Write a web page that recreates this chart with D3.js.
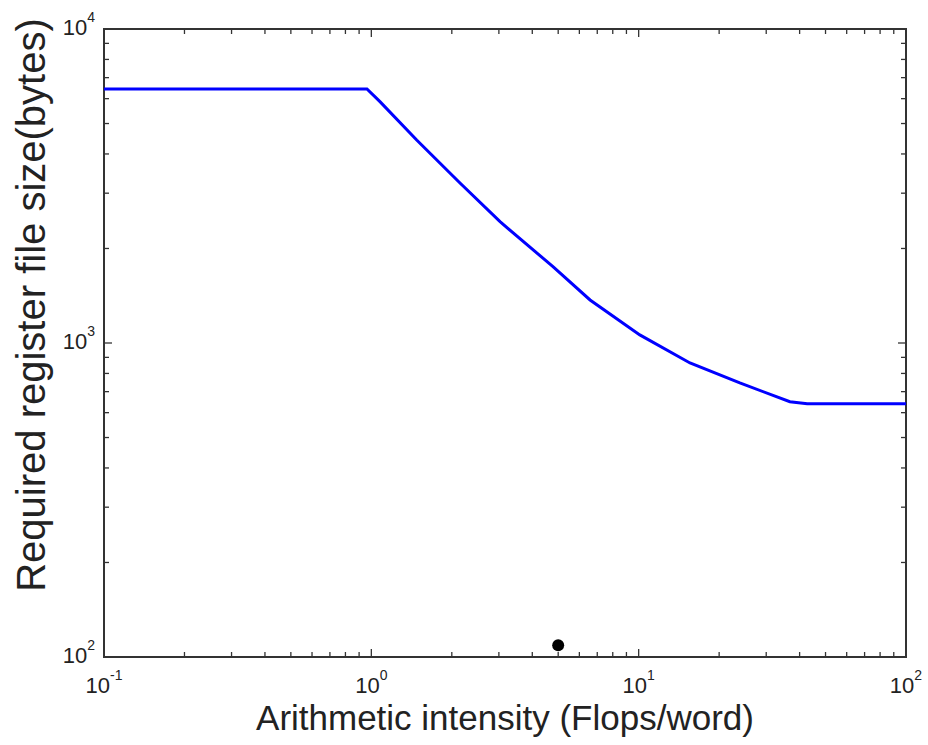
<!DOCTYPE html>
<html>
<head>
<meta charset="utf-8">
<script src="https://cdn.jsdelivr.net/npm/d3@7"></script>
<style>
  body { margin: 0; background: #fff; }
  text { font-family: Arial, "Liberation Sans", sans-serif; fill: #222; }
</style>
</head>
<body>
<div id="container"></div>
<script>
let w = 928;
let h = 745;
let margin = {left: 104, right: 22, top: 29, bottom: 88};

// DATA
let intensity = [0.1, 0.963, 1.077, 1.478, 2.146, 3.03, 4.78, 6.58, 10.1, 15.56, 23.9, 36.8, 42.7, 100];
let registerSize = [6440, 6440, 5870, 4431, 3233, 2434, 1750, 1371, 1061, 864, 746, 650, 640, 640];
let pointX = [5.0];
let pointY = [109];
let xDecades = [0.1, 1, 10, 100];
let xDecadeLabels = ["-1", "0", "1", "2"];
let yDecades = [100, 1000, 10000];
let yDecadeLabels = ["2", "3", "4"];

let x = d3.scaleLog().domain([0.1, 100]).range([margin.left, w - margin.right]);
let y = d3.scaleLog().domain([100, 10000]).range([h - margin.bottom, margin.top]);

let viz = d3.select("#container").append("svg")
    .attr("width", w)
    .attr("height", h);

// minor ticks for log scales
function minorTicks(decades) {
    let out = [];
    decades.slice(0, -1).forEach(d => {
        for (let k = 2; k <= 9; k++) out.push(d * k);
    });
    return out;
}
let xMinor = minorTicks(xDecades);
let yMinor = minorTicks(yDecades);

let tickColor = "#333";
let x0 = x.range()[0], x1 = x.range()[1];
let y0 = y.range()[0], y1 = y.range()[1];

// ticks (inside, mirrored on all sides)
let ticks = viz.append("g").attr("stroke", tickColor).attr("stroke-width", 1.3);
[[xDecades, 8], [xMinor, 5]].forEach(([vals, len]) => {
    ticks.selectAll(null).data(vals).enter().append("line")
        .attr("x1", d => x(d)).attr("x2", d => x(d))
        .attr("y1", y0).attr("y2", y0 - len);
    ticks.selectAll(null).data(vals).enter().append("line")
        .attr("x1", d => x(d)).attr("x2", d => x(d))
        .attr("y1", y1).attr("y2", y1 + len);
});
[[yDecades, 8], [yMinor, 5]].forEach(([vals, len]) => {
    ticks.selectAll(null).data(vals).enter().append("line")
        .attr("y1", d => y(d)).attr("y2", d => y(d))
        .attr("x1", x0).attr("x2", x0 + len);
    ticks.selectAll(null).data(vals).enter().append("line")
        .attr("y1", d => y(d)).attr("y2", d => y(d))
        .attr("x1", x1).attr("x2", x1 - len);
});

// frame
viz.append("rect")
    .attr("x", x0).attr("y", y1)
    .attr("width", x1 - x0).attr("height", y0 - y1)
    .attr("fill", "none")
    .attr("stroke", tickColor)
    .attr("stroke-width", 2);

// curve
let line = d3.line()
    .x((d, i) => x(intensity[i]))
    .y((d, i) => y(registerSize[i]));
viz.append("path")
    .datum(intensity)
    .attr("d", line)
    .attr("fill", "none")
    .attr("stroke", "#0000ff")
    .attr("stroke-width", 3);

// point
viz.selectAll(".pt").data(pointX).enter()
    .append("circle")
    .attr("class", "pt")
    .attr("cx", d => x(d))
    .attr("cy", (d, i) => y(pointY[i]))
    .attr("r", 6)
    .attr("fill", "#000");

// tick labels
let xl = viz.selectAll(".xlab").data(xDecades).enter()
    .append("text")
    .attr("class", "xlab")
    .attr("x", d => x(d))
    .attr("y", y0 + 36)
    .attr("text-anchor", "middle")
    .style("font-size", "22px");
xl.append("tspan").text("10");
xl.append("tspan").attr("dy", -13).style("font-size", "14px").text((d, i) => xDecadeLabels[i]);

let yl = viz.selectAll(".ylab").data(yDecades).enter()
    .append("text")
    .attr("class", "ylab")
    .attr("x", x0 - 9)
    .attr("y", d => y(d) + 6)
    .attr("text-anchor", "end")
    .style("font-size", "22px");
yl.append("tspan").text("10");
yl.append("tspan").attr("dy", -13).style("font-size", "14px").text((d, i) => yDecadeLabels[i]);

// axis titles
viz.append("text")
    .attr("x", (x0 + x1) / 2)
    .attr("y", 730)
    .attr("text-anchor", "middle")
    .style("font-size", "35px")
    .text("Arithmetic intensity (Flops/word)");

viz.append("text")
    .attr("transform", "translate(45," + 305 + ") rotate(-90)")
    .attr("text-anchor", "middle")
    .style("font-size", "40px")
    .text("Required register file size(bytes)");
</script>
</body>
</html>
